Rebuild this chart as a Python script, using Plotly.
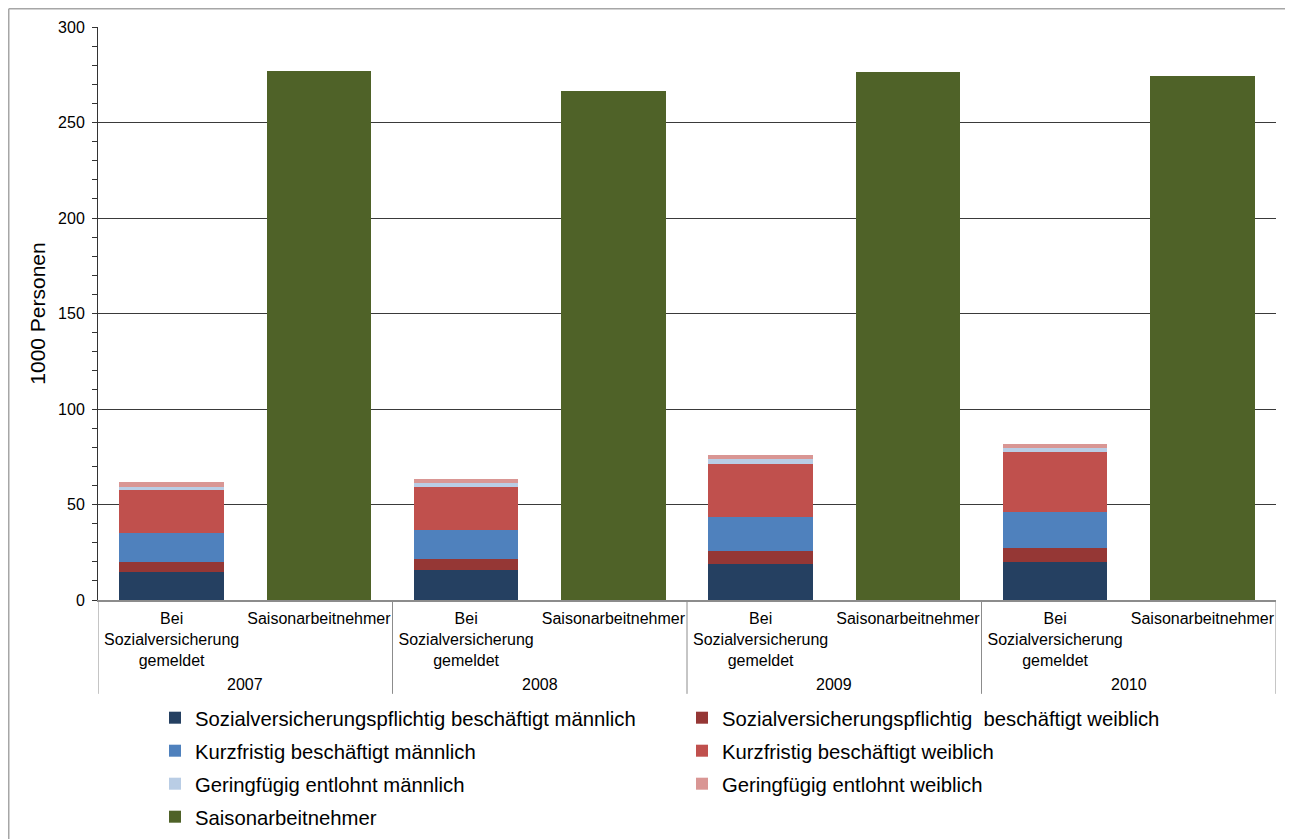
import plotly.graph_objects as go

years = ["2007", "2008", "2009", "2010"]
cat_labels = ["Bei<br>Sozialversicherung<br>gemeldet", "Saisonarbeitnehmer"]

svp_m = [14.7, 15.5, 18.7, 20.1]
svp_w = [5.4, 6.0, 7.2, 7.0]
kurz_m = [15.0, 15.0, 17.6, 19.2]
kurz_w = [22.5, 22.9, 27.7, 31.2]
ger_m = [1.8, 1.7, 2.5, 1.9]
ger_w = [2.2, 2.5, 2.1, 2.1]
saison = [276.8, 266.3, 276.2, 274.1]

names = [
    "Sozialversicherungspflichtig beschäftigt männlich",
    "Sozialversicherungspflichtig  beschäftigt weiblich",
    "Kurzfristig beschäftigt männlich",
    "Kurzfristig beschäftigt weiblich",
    "Geringfügig entlohnt männlich",
    "Geringfügig entlohnt weiblich",
]
stack_values = [svp_m, svp_w, kurz_m, kurz_w, ger_m, ger_w]
colors = ["#254061", "#953735", "#4F81BD", "#C0504D", "#B9CDE5", "#D99694"]
legend_rows = ["legend", "legend", "legend2", "legend2", "legend3", "legend3"]

# category keys: (year, group) -> unique axis category, label shown via ticktext
keys_bei = [f"{y}|bei" for y in years]
keys_saison = [f"{y}|saison" for y in years]
cat_order = [k for pair in zip(keys_bei, keys_saison) for k in pair]
cat_text = [cat_labels[i % 2] for i in range(len(cat_order))]

fig = go.Figure()
for name, vals, col, lg in zip(names, stack_values, colors, legend_rows):
    fig.add_trace(go.Bar(
        x=keys_bei, y=vals, name=name, legend=lg,
        marker=dict(color=col, line=dict(width=0)),
    ))
fig.add_trace(go.Bar(
    x=keys_saison, y=saison, name="Saisonarbeitnehmer",
    legend="legend4", marker=dict(color="#4F6228", line=dict(width=0)),
))

W, H = 1293, 839
OFF = 8  # page body margin
ml, mt = 90, 19
pw, ph = 1178, 574
mr, mb = W - ml - pw, H - mt - ph

def px_x(p):  # page pixel -> paper x
    return (p - OFF - ml) / pw

def px_y(p):  # page pixel -> paper y
    return (H - mb - (p - OFF)) / ph

legend_common = dict(
    orientation="h", traceorder="normal", xanchor="left", yanchor="middle",
    font=dict(size=20.3), entrywidth=482, entrywidthmode="pixels",
    bgcolor="rgba(0,0,0,0)",
)
row_y = [718, 751, 784, 817]
leg_x = px_x(155)

divider_color = "#8C8C8C"
shapes = []
n_groups = len(years)
for i in range(n_groups + 1):
    shapes.append(dict(
        type="line", xref="x", yref="paper",
        x0=2 * i - 0.5, x1=2 * i - 0.5, y0=0, y1=px_y(695),
        line=dict(color=divider_color, width=1),
    ))
# outer chart frame (top and left edges visible)
shapes.append(dict(type="line", xref="paper", yref="paper",
                   x0=px_x(8.75), x1=px_x(1300), y0=px_y(8.75), y1=px_y(8.75),
                   line=dict(color="#A6A6A6", width=1.5)))
shapes.append(dict(type="line", xref="paper", yref="paper",
                   x0=px_x(8.75), x1=px_x(8.75), y0=px_y(8.75), y1=px_y(900),
                   line=dict(color="#A6A6A6", width=1.5)))

annotations = [
    dict(x=2 * i + 0.5, y=px_y(686), xref="x", yref="paper", text=y,
         showarrow=False, xanchor="center", yanchor="middle", font=dict(size=16))
    for i, y in enumerate(years)
]

fig.update_layout(
    width=W, height=H,
    margin=dict(l=ml, r=mr, t=mt, b=mb),
    barmode="stack", bargap=0.29,
    paper_bgcolor="white", plot_bgcolor="white",
    font=dict(family="Liberation Sans, Arial, sans-serif", color="black", size=15),
    showlegend=True,
    legend=dict(legend_common, x=leg_x, y=px_y(row_y[0])),
    legend2=dict(legend_common, x=leg_x, y=px_y(row_y[1])),
    legend3=dict(legend_common, x=leg_x, y=px_y(row_y[2])),
    legend4=dict(legend_common, x=leg_x, y=px_y(row_y[3])),
    xaxis=dict(
        type="category", categoryorder="array", categoryarray=cat_order,
        tickmode="array", tickvals=cat_order, ticktext=cat_text,
        range=[-0.5, len(cat_order) - 0.5],
        showline=True, linecolor=divider_color, linewidth=1.5,
        ticks="", tickfont=dict(size=16), tickangle=0, showgrid=False,
        ticklabelstandoff=3,
    ),
    yaxis=dict(
        range=[0, 300], dtick=50, showline=True, linecolor="#333333", linewidth=1,
        ticks="outside", ticklen=5, tickcolor="#333333",
        minor=dict(dtick=10, ticks="outside", ticklen=5, tickcolor="#333333", showgrid=False),
        showgrid=True, gridcolor="#3A3A3A", gridwidth=1, zeroline=False,
        tickfont=dict(size=16), ticklabelstandoff=4,
        title=dict(text="1000 Personen", font=dict(size=21), standoff=6),
    ),
    shapes=shapes,
    annotations=annotations,
)

fig.write_html("out.html")
